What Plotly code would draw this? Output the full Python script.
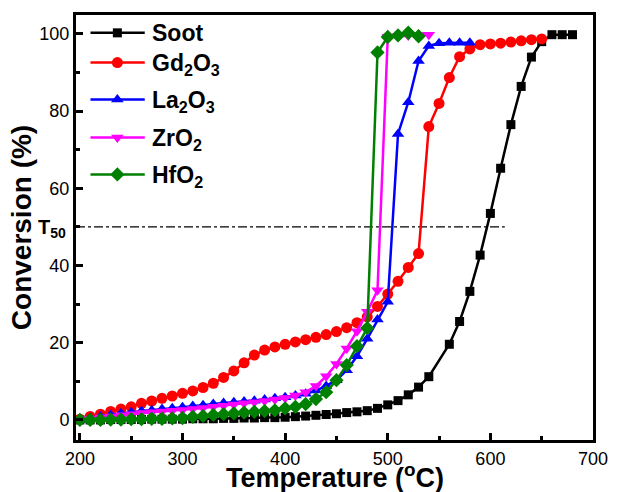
import plotly.graph_objects as go

# ---------------- data ----------------
soot_T = [200, 210, 220, 230, 240, 250, 260, 270, 280, 290, 300, 310, 320, 330, 340, 350, 360, 370, 380, 390,
          400, 410, 420, 430, 440, 450, 460, 470, 480, 490, 500, 510, 520, 530, 540, 560, 570, 580, 590, 600,
          610, 620, 630, 640, 650, 660, 670, 680]
soot_C = [0.0, 0.0, 0.0, 0.1, 0.1, 0.1, 0.1, 0.2, 0.2, 0.2, 0.2, 0.3, 0.3, 0.3, 0.4, 0.4, 0.5, 0.5, 0.6, 0.6,
          0.7, 0.85, 1.0, 1.2, 1.4, 1.6, 1.9, 2.1, 2.4, 3.0, 3.9, 5.0, 6.5, 8.5, 11.2, 19.6, 25.5, 33.3, 42.7, 53.5,
          65.2, 76.5, 86.4, 94.0, 98.0, 99.8, 99.8, 99.8]

gd_T = [200, 210, 220, 230, 240, 250, 260, 270, 280, 290, 300, 310, 320, 330, 340, 350, 360, 370, 380, 390,
        400, 410, 420, 430, 440, 450, 460, 470, 480, 490, 500, 510, 520, 530, 540, 550, 560, 570, 580, 590,
        600, 610, 620, 630, 640, 650]
gd_C = [0.2, 0.9, 1.5, 2.2, 2.8, 3.4, 4.3, 4.9, 5.6, 6.2, 6.9, 7.5, 8.4, 9.5, 11.0, 12.7, 14.8, 16.8, 18.1, 18.9,
        19.6, 20.2, 20.8, 21.4, 22.1, 22.9, 23.9, 25.2, 26.7, 29.4, 32.6, 35.9, 39.5, 43.1, 76.0, 82.0, 88.7, 94.1, 96.1, 97.2,
        97.4, 97.6, 97.9, 98.2, 98.5, 98.7]

la_T = [200, 210, 220, 230, 240, 250, 260, 270, 280, 290, 300, 310, 320, 330, 340, 350, 360, 370, 380, 390,
        400, 410, 420, 430, 440, 450, 460, 470, 480, 490, 500, 510, 520, 530, 540, 550, 560, 570, 580]
la_C = [0.0, 0.5, 0.9, 1.3, 1.7, 2.0, 2.3, 2.5, 2.8, 3.0, 3.3, 3.6, 3.8, 4.1, 4.4, 4.6, 4.8, 5.0, 5.3, 5.6,
        5.9, 6.3, 6.8, 7.6, 8.8, 10.3, 12.9, 16.5, 21.0, 26.0, 30.6, 74.1, 82.3, 93.0, 96.9, 97.6, 97.7, 97.7, 97.7]

zr_T = [200, 210, 220, 230, 240, 250, 260, 270, 280, 290, 300, 310, 320, 330, 340, 350, 360, 370, 380, 390,
        400, 410, 420, 430, 440, 450, 460, 470, 480, 490, 500, 510, 520, 530, 540]
zr_C = [0.0, 0.3, 0.6, 0.9, 1.2, 1.5, 1.8, 2.0, 2.2, 2.4, 2.6, 2.8, 3.1, 3.4, 3.7, 4.0, 4.3, 4.6, 4.9, 5.3,
        5.7, 6.3, 7.2, 8.8, 11.3, 14.5, 18.5, 23.0, 28.0, 33.6, 99.2, 99.4, 99.6, 99.7, 99.8]

hf_T = [200, 210, 220, 230, 240, 250, 260, 270, 280, 290, 300, 310, 320, 330, 340, 350, 360, 370, 380, 390,
        400, 410, 420, 430, 440, 450, 460, 470, 480, 490, 500, 510, 520, 530]
hf_C = [0.0, 0.0, 0.0, 0.1, 0.1, 0.2, 0.2, 0.3, 0.3, 0.4, 0.5, 0.8, 1.0, 1.3, 1.5, 1.7, 1.9, 2.1, 2.3, 2.5,
        3.0, 3.4, 4.1, 5.4, 7.2, 10.3, 14.2, 19.1, 23.8, 95.2, 99.2, 99.6, 100.3, 99.4]

series_names = ["Soot", "Gd<sub>2</sub>O<sub>3</sub>", "La<sub>2</sub>O<sub>3</sub>",
                "ZrO<sub>2</sub>", "HfO<sub>2</sub>"]
series_colors = ["#000000", "#FF0000", "#0000FF", "#FF00FF", "#008000"]
series_symbols = ["square", "circle", "triangle-up", "triangle-down", "diamond"]
series_sizes = [9, 11, 11, 11, 11]

t50_level = 50
t50_x_end = 614

x_ticks = [200, 300, 400, 500, 600, 700]
y_ticks = [0, 20, 40, 60, 80, 100]

# legend layout (fractions of the plot area)
leg_rows = [0.958, 0.888, 0.801, 0.712, 0.625]
leg_line_x = [0.028, 0.133]
leg_mark_x = 0.080
leg_text_x = 0.143

FONT = "Arial, Liberation Sans, sans-serif"

fig = go.Figure()
all_series = [(soot_T, soot_C), (gd_T, gd_C), (la_T, la_C), (zr_T, zr_C), (hf_T, hf_C)]
for i, (T, C) in enumerate(all_series):
    fig.add_trace(go.Scatter(
        x=T, y=C, mode="lines+markers", name=series_names[i], showlegend=False,
        line=dict(color=series_colors[i], width=2.5),
        marker=dict(symbol=series_symbols[i], size=series_sizes[i], color=series_colors[i],
                    line=dict(width=0)),
    ))

# custom legend on an overlay axis spanning the plot area [0,1]x[0,1]
for i in range(len(all_series)):
    yr = leg_rows[i]
    fig.add_trace(go.Scatter(
        x=leg_line_x, y=[yr, yr], mode="lines", xaxis="x2", yaxis="y2", showlegend=False,
        hoverinfo="skip", line=dict(color=series_colors[i], width=2.5)))
    fig.add_trace(go.Scatter(
        x=[leg_mark_x], y=[yr], mode="markers", xaxis="x2", yaxis="y2", showlegend=False,
        hoverinfo="skip",
        marker=dict(symbol=series_symbols[i], size=series_sizes[i], color=series_colors[i],
                    line=dict(width=0))))
    sub = "<sub>" in series_names[i]
    fig.add_annotation(xref="x2", yref="y2", x=leg_text_x, y=yr, xanchor="left", yanchor="middle",
                       yshift=(-2 if sub else 0), showarrow=False,
                       text="<b>" + series_names[i] + "</b>",
                       font=dict(family=FONT, size=23, color="black"))

fig.add_shape(type="line", xref="x", yref="y", x0=196.2, x1=t50_x_end, y0=t50_level, y1=t50_level,
              line=dict(color="black", width=1.2, dash="dashdot"), layer="below")

fig.add_annotation(xref="paper", yref="y", x=0, y=t50_level, xanchor="right", yanchor="middle",
                   xshift=-8, yshift=-2, showarrow=False,
                   text="<b>T<sub>50</sub></b>", font=dict(family=FONT, size=20, color="black"))

fig.add_annotation(xref="paper", yref="paper", x=0.5, y=0, xanchor="center", yanchor="top",
                   yshift=-17, showarrow=False,
                   text="<b>Temperature (<sup>o</sup>C)</b>", font=dict(family=FONT, size=27, color="black"))

axis_common = dict(showline=True, linecolor="black", linewidth=3, mirror=True, showgrid=False,
                   zeroline=False, ticks="inside", tickcolor="black", tickwidth=2.5, ticklen=7,
                   tickfont=dict(family=FONT, size=18, color="black"))

fig.update_xaxes(range=[196.2, 700], tickvals=x_ticks,
                 minor=dict(ticks="inside", dtick=50, tick0=200, ticklen=4, tickwidth=2.5, tickcolor="black"),
                 **axis_common)
fig.update_yaxes(range=[-5.2, 104.9], tickvals=y_ticks,
                 minor=dict(ticks="inside", dtick=10, tick0=0, ticklen=4, tickwidth=2.5, tickcolor="black"),
                 title=dict(text="<b>Conversion (%)</b>", font=dict(family=FONT, size=28, color="black"),
                            standoff=0),
                 **axis_common)

fig.update_layout(
    width=620, height=492,
    margin=dict(l=76, r=17, t=14, b=52),
    paper_bgcolor="white", plot_bgcolor="white",
    font=dict(family=FONT, color="black"),
    xaxis2=dict(overlaying="x", range=[0, 1], visible=False, fixedrange=True),
    yaxis2=dict(overlaying="y", range=[0, 1], visible=False, fixedrange=True),
    showlegend=False,
)

fig.write_html("out.html", config={"displayModeBar": False},
               post_script="document.body.style.margin='0';")
